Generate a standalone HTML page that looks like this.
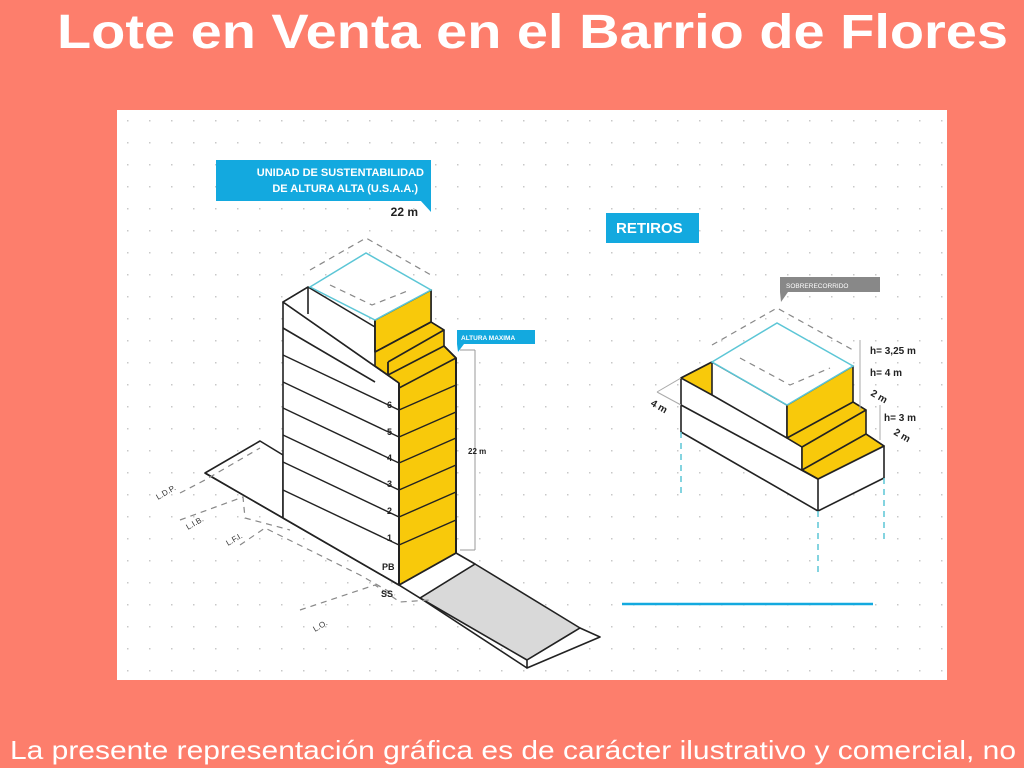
<!DOCTYPE html>
<html><head><meta charset="utf-8"><style>
html,body{margin:0;padding:0;background:#fd7e6c;}
svg{display:block}
</style></head><body>
<svg width="1024" height="768" viewBox="0 0 1024 768" xmlns="http://www.w3.org/2000/svg" font-family="Liberation Sans, sans-serif">
<defs>
<pattern id="dots" width="22" height="22" patternUnits="userSpaceOnUse" x="117" y="110">
<rect x="10" y="10" width="1.5" height="1.5" fill="#c8c8c8"/>
</pattern>
</defs>
<rect width="1024" height="768" fill="#fd7e6c"/>
<text x="57" y="48" font-size="48" font-weight="bold" fill="#fff" textLength="951" lengthAdjust="spacingAndGlyphs">Lote en Venta en el Barrio de Flores</text>
<text x="10" y="759" font-size="26" fill="#fff" textLength="1006" lengthAdjust="spacingAndGlyphs">La presente representación gráfica es de carácter ilustrativo y comercial, no</text>
<rect x="117" y="110" width="830" height="570" fill="#fff"/>
<rect x="117" y="110" width="830" height="570" fill="url(#dots)"/>

<g stroke="#222" stroke-width="1.6" fill="#fff" stroke-linejoin="round">
<polygon points="205,473 260,441 283,455 283,518 399,585 205,473" fill="#fff"/>
<line x1="205" y1="473" x2="399" y2="585"/>
<line x1="399" y1="585" x2="420" y2="598"/>
<polygon points="420,598 475,564 580,628 527,660" fill="#d9d9d9"/>
<polygon points="456,553 475,564 420,598 399,585" fill="#fff"/>
<polygon points="580,628 600,637 527,668 527,660" fill="#fff"/>
<line x1="420" y1="598" x2="527" y2="668"/>
<polygon points="283,302 399,383 399,585 283,518" fill="#fff"/>
<polygon points="283,302 308,287 375,327 399,343 399,383" fill="#fff"/>
<polygon points="375,320 431,290 431,322 444,330 444,346 456,358 456,553 399,585 399,383 385,373 375,366" fill="#f8c90b"/>
<polygon points="375,320 431,290 431,322 375,352" fill="#f8c90b"/>
<polyline points="375,352 431,322 444,330 388,362" fill="none"/>
<polyline points="388,362 388,375 444,346 456,358 399,388" fill="none"/>
<polyline points="283,302 308,287 308,314" fill="none"/>
<line x1="283" y1="328" x2="375" y2="382"/>
<line x1="375" y1="320" x2="375" y2="352"/>
<line x1="388" y1="362" x2="388" y2="375"/>
</g>
<g stroke="#222" stroke-width="1.4">
<line x1="283" y1="355" x2="399" y2="410"/>
<line x1="283" y1="382" x2="399" y2="437"/>
<line x1="283" y1="408" x2="399" y2="463"/>
<line x1="283" y1="435" x2="399" y2="490"/>
<line x1="283" y1="462" x2="399" y2="517"/>
<line x1="283" y1="490" x2="399" y2="545"/>
<line x1="399" y1="410" x2="456" y2="385"/>
<line x1="399" y1="437" x2="456" y2="412"/>
<line x1="399" y1="463" x2="456" y2="438"/>
<line x1="399" y1="490" x2="456" y2="465"/>
<line x1="399" y1="517" x2="456" y2="492"/>
<line x1="399" y1="545" x2="456" y2="520"/>
<line x1="399" y1="383" x2="399" y2="585" stroke-width="2"/>
<line x1="456" y1="358" x2="456" y2="553" stroke-width="2"/>
</g>
<polygon points="310,287 366,253 431,290 375,320" fill="#fff" stroke="#5cc6d6" stroke-width="1.5"/>
<g stroke="#888" stroke-width="1.2" stroke-dasharray="6,5" fill="none">
<polyline points="310,270 366,238 431,275"/>
<polyline points="330,285 372,305 410,290"/>
<polyline points="180,493 205,480 260,448"/>
<polyline points="180,520 243,497 245,518 290,530"/>
<polyline points="240,545 265,528 360,575 395,595"/>
<polyline points="300,610 375,585 400,602 430,600"/>
</g>
<line x1="460" y1="350" x2="475" y2="350" stroke="#999"/>
<line x1="475" y1="350" x2="475" y2="550" stroke="#999"/>
<line x1="460" y1="550" x2="475" y2="550" stroke="#999"/>
<g font-size="9" font-weight="bold" fill="#222">
<text x="387" y="408">6</text><text x="387" y="435">5</text><text x="387" y="461">4</text>
<text x="387" y="487">3</text><text x="387" y="514">2</text><text x="387" y="541">1</text>
<text x="382" y="570">PB</text><text x="381" y="597">SS</text>
<text x="468" y="454" font-size="8">22 m</text>
</g>
<g font-size="8" fill="#333">
<text x="158" y="500" transform="rotate(-30 158 500)">L.D.P.</text>
<text x="188" y="530" transform="rotate(-30 188 530)">L.I.B.</text>
<text x="228" y="546" transform="rotate(-30 228 546)">L.F.I.</text>
<text x="315" y="632" transform="rotate(-30 315 632)">L.O.</text>
</g>
<rect x="216" y="160" width="215" height="41" fill="#13a9df"/>
<polygon points="420,200 431,200 431,212" fill="#13a9df"/>
<text x="424" y="176" font-size="11" font-weight="bold" fill="#fff" text-anchor="end">UNIDAD DE SUSTENTABILIDAD</text>
<text x="418" y="192" font-size="11" font-weight="bold" fill="#fff" text-anchor="end">DE ALTURA ALTA (U.S.A.A.)</text>
<text x="418" y="216" font-size="12" font-weight="bold" fill="#222" text-anchor="end">22 m</text>
<rect x="457" y="330" width="78" height="14" fill="#13a9df"/>
<polygon points="457,344 464,344 458,352" fill="#13a9df"/>
<text x="461" y="340" font-size="6.5" font-weight="bold" fill="#fff">ALTURA MAXIMA</text>

<rect x="606" y="213" width="93" height="30" fill="#13a9df"/>
<text x="616" y="233" font-size="15" font-weight="bold" fill="#fff">RETIROS</text>
<rect x="780" y="277" width="100" height="15" fill="#888"/>
<polygon points="780,292 788,292 781,302" fill="#888"/>
<text x="786" y="288" font-size="6.5" fill="#fff">SOBRERECORRIDO</text>
<g stroke="#222" stroke-width="1.6" stroke-linejoin="round">
<polygon points="681,378 712,362 787,405 787,438 802,447 802,470 818,479 884,446 884,478 818,511 681,432" fill="#fff"/>
<polygon points="681,378 712,362 712,395" fill="#f8c90b"/>
<polygon points="787,405 853,366 853,402 866,410 866,434 884,446 818,479 802,470 802,447 787,438" fill="#f8c90b"/>
<polyline points="787,438 853,402 866,410 802,447" fill="none"/>
<polyline points="802,470 866,434 884,446" fill="none"/>
<line x1="681" y1="405" x2="818" y2="479"/>
<line x1="712" y1="395" x2="787" y2="438"/>
<line x1="818" y1="479" x2="818" y2="511"/>
</g>
<polygon points="712,362 777,323 853,366 787,405" fill="#fff" stroke="#5cc6d6" stroke-width="1.5"/>
<g stroke="#888" stroke-width="1.2" stroke-dasharray="6,5" fill="none">
<polyline points="712,345 777,308 853,350"/>
<polyline points="740,358 790,385 830,368"/>
</g>
<g stroke="#aaa" stroke-width="1" fill="none">
<line x1="860" y1="340" x2="860" y2="410"/>
<line x1="880" y1="405" x2="880" y2="440"/>
<line x1="657" y1="392" x2="681" y2="378"/>
<line x1="657" y1="392" x2="681" y2="405"/>
</g>
<g stroke="#5cc6d6" stroke-width="1.5" stroke-dasharray="6,5">
<line x1="681" y1="432" x2="681" y2="495"/>
<line x1="818" y1="511" x2="818" y2="575"/>
<line x1="884" y1="478" x2="884" y2="540"/>
</g>
<line x1="622" y1="604" x2="873" y2="604" stroke="#13a9df" stroke-width="2.5"/>
<g font-size="10" font-weight="bold" fill="#222">
<text x="870" y="354">h= 3,25 m</text>
<text x="870" y="376">h= 4 m</text>
<text x="870" y="395" transform="rotate(30 870 395)">2 m</text>
<text x="884" y="421">h= 3 m</text>
<text x="893" y="434" transform="rotate(30 893 434)">2 m</text>
<text x="650" y="405" transform="rotate(30 650 405)">4 m</text>
</g>
</svg>
</body></html>
